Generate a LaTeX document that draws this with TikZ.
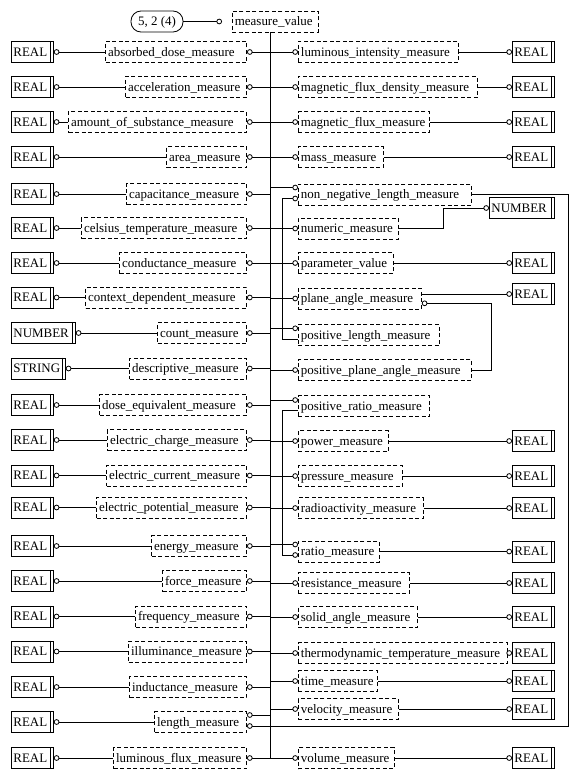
\documentclass[tikz,border=0pt]{standalone}
\usepackage{fontspec}
\setmainfont{Liberation Serif}
\usetikzlibrary{arrows.meta,calc}
\tikzset{
  pl/.style={line width=0.8bp},
  oe/.style={line width=0.8bp,-{Circle[fill=white,length=5.6bp,width=5.6bp]}},
  dbox/.style={draw,dash pattern=on 4bp off 2.5bp,line width=0.8bp,inner xsep=2.5bp,inner ysep=0pt,
    minimum height=21bp,text height=8.6bp,text depth=0pt,align=left},
  sbox/.style={draw,line width=0.8bp,inner xsep=2bp,inner ysep=0pt,
    minimum height=21bp,text height=8.6bp,text depth=0pt,align=left},
  rbox/.style={draw,line width=0.8bp,rounded corners=10bp,inner sep=0pt,minimum width=52bp,
    minimum height=21bp,text height=8.6bp,text depth=0pt},
}
\newcommand\LBox[4]{\pgfmathsetmacro\mytw{247-#3-5}\node[dbox,text width=\mytw bp,anchor=east] (#1) at (247,#2) {#4};}
\newcommand\RBox[4]{\pgfmathsetmacro\mytw{#3-298-5}\node[dbox,text width=\mytw bp,anchor=west] (#1) at (298,#2) {#4};}
\newcommand\SBox[5]{\pgfmathsetmacro\mytw{#4-4}\node[sbox,text width=\mytw bp,anchor=west] (#1) at (#2,#3) {#5};
  \draw[pl] ([xshift=-3.8bp]#1.north east) -- ([xshift=-3.8bp]#1.south east);}
\begin{document}
\begin{tikzpicture}[x=1bp,y=-1bp,font=\fontsize{13}{15}\selectfont]
\useasboundingbox (0,0) rectangle (582,778);

% top
\node[rbox] (sel) at (157,21.5) {5, 2 (4)};
\node[dbox,anchor=west,text width=81bp] (mv) at (232,21.5) {measure\_value};
\coordinate (trunk) at (270.5,32);
\coordinate (lp) at (282,0);
\coordinate (rx) at (568,0);
\coordinate (nb) at (443,0);
\coordinate (pb) at (491,0);

% left column
\LBox{l1}{52}{106}{absorbed\_dose\_measure}
\LBox{l2}{87}{126}{acceleration\_measure}
\LBox{l3}{122}{69}{amount\_of\_substance\_measure}
\LBox{l4}{157}{167}{area\_measure}
\LBox{l5}{194}{127}{capacitance\_measure}
\LBox{l6}{228}{82}{celsius\_temperature\_measure}
\LBox{l7}{263}{120}{conductance\_measure}
\LBox{l8}{297.5}{86}{context\_dependent\_measure}
\LBox{l9}{333}{158}{count\_measure}
\LBox{l10}{368.5}{130}{descriptive\_measure}
\LBox{l11}{405}{100}{dose\_equivalent\_measure}
\LBox{l12}{440}{108}{electric\_charge\_measure}
\LBox{l13}{475.5}{107}{electric\_current\_measure}
\LBox{l14}{507.5}{97}{electric\_potential\_measure}
\LBox{l15}{546}{152}{energy\_measure}
\LBox{l16}{581}{163}{force\_measure}
\LBox{l17}{616.5}{136}{frequency\_measure}
\LBox{l18}{651.5}{129}{illuminance\_measure}
\LBox{l19}{687}{130}{inductance\_measure}
\LBox{l20}{722}{155}{length\_measure}
\LBox{l21}{758}{114}{luminous\_flux\_measure}

\SBox{lt1}{11}{52}{42}{REAL}
\SBox{lt2}{11}{87}{42}{REAL}
\SBox{lt3}{11}{122}{42}{REAL}
\SBox{lt4}{11}{157}{42}{REAL}
\SBox{lt5}{11}{194}{42}{REAL}
\SBox{lt6}{11}{228}{42}{REAL}
\SBox{lt7}{11}{263}{42}{REAL}
\SBox{lt8}{11}{297.5}{42}{REAL}
\SBox{lt9}{11}{333}{64}{NUMBER}
\SBox{lt10}{11}{368.5}{54}{STRING}
\SBox{lt11}{11}{405}{42}{REAL}
\SBox{lt12}{11}{440}{42}{REAL}
\SBox{lt13}{11}{475.5}{42}{REAL}
\SBox{lt14}{11}{507.5}{42}{REAL}
\SBox{lt15}{11}{546}{42}{REAL}
\SBox{lt16}{11}{581}{42}{REAL}
\SBox{lt17}{11}{616.5}{42}{REAL}
\SBox{lt18}{11}{651.5}{42}{REAL}
\SBox{lt19}{11}{687}{42}{REAL}
\SBox{lt20}{11}{722}{42}{REAL}
\SBox{lt21}{11}{758}{42}{REAL}

% right column
\RBox{r1}{52}{458}{luminous\_intensity\_measure}
\RBox{r2}{87}{477}{magnetic\_flux\_density\_measure}
\RBox{r3}{122}{429}{magnetic\_flux\_measure}
\RBox{r4}{157}{383}{mass\_measure}
\RBox{r5}{194.5}{471}{non\_negative\_length\_measure}
\RBox{r6}{228.5}{398}{numeric\_measure}
\RBox{r7}{263}{393}{parameter\_value}
\RBox{r8}{298.5}{421}{plane\_angle\_measure}
\RBox{r9}{335}{439}{positive\_length\_measure}
\RBox{r10}{370}{471}{positive\_plane\_angle\_measure}
\RBox{r11}{406}{429}{positive\_ratio\_measure}
\RBox{r12}{441}{388}{power\_measure}
\RBox{r13}{476}{402}{pressure\_measure}
\RBox{r14}{508}{423}{radioactivity\_measure}
\RBox{r15}{551.5}{379}{ratio\_measure}
\RBox{r16}{583}{409}{resistance\_measure}
\RBox{r17}{617}{417}{solid\_angle\_measure}
\RBox{r18}{653}{507}{thermodynamic\_temperature\_measure}
\RBox{r19}{681}{377}{time\_measure}
\RBox{r20}{709}{398}{velocity\_measure}
\RBox{r21}{758}{394}{volume\_measure}

\foreach \i/\y in {1/52,2/87,3/122,4/157,7/263,12/441,13/476,14/508,15/551.5,16/583,17/617,18/653,19/681,20/709,21/758}
  {\SBox{rt\i}{512}{\y}{42}{REAL}}
\SBox{rt8}{512}{294}{42}{REAL}
\SBox{rt6}{489}{208}{65}{NUMBER}

% trunk
\draw[pl] (mv.south -| trunk) -- (trunk |- r21.west);
\draw[oe] (sel.east) -- ($(mv.west)+(-10,0)$);

% left connections
\foreach \i in {1,...,21} {\draw[oe] (l\i.west) -- (lt\i.east);}
\foreach \i in {1,...,19,21} {\draw[oe] (l\i.east -| trunk) -- (l\i.east);}
\coordinate (l20hi) at ($(l20.east)+(0,-7)$);
\coordinate (l20lo) at ($(l20.east)+(0,4)$);
\draw[oe] (l20hi -| trunk) -- (l20hi);

% right connections
\foreach \i in {1,2,3,4,6,7,8,10,12,13,14,16,17,18,19,20,21} {\draw[oe] (r\i.west -| trunk) -- (r\i.west);}
\foreach \i in {1,2,3,4,7,12,13,14,15,16,17,18,19,20,21} {\draw[oe] (r\i.east) -- (rt\i.west);}
\coordinate (r5hi) at ($(r5.west)+(0,-7)$);
\coordinate (r5lo) at ($(r5.west)+(0,4)$);
\coordinate (r9hi) at ($(r9.west)+(0,-6.7)$);
\coordinate (r9lo) at ($(r9.west)+(0,4.3)$);
\coordinate (r11hi) at ($(r11.west)+(0,-6)$);
\coordinate (r11lo) at ($(r11.west)+(0,4.7)$);
\coordinate (r15hi) at ($(r15.west)+(0,-7)$);
\coordinate (r15lo) at ($(r15.west)+(0,3.5)$);
\coordinate (r8lo) at ($(r8.east)+(0,4.8)$);
\draw[oe] (r5hi -| trunk) -- (r5hi);
\draw[oe] (r9hi -| trunk) -- (r9hi);
\draw[oe] (r11hi -| trunk) -- (r11hi);
\draw[oe] (r15hi -| trunk) -- (r15hi);
\draw[oe] (r9lo) -- (r9lo -| lp) -- (lp |- r5lo) -- (r5lo);
\draw[oe] (r11lo) -- (r11lo -| lp) -- (lp |- r15lo) -- (r15lo);
\draw[oe] (r5.east) -- (r5.east -| rx) -- (rx |- l20lo) -- (l20lo);
\draw[oe] (r6.east) -- (r6.east -| nb) -- (nb |- rt6.west) -- (rt6.west);
\draw[oe] (r8.east |- rt8.west) -- (rt8.west);
\draw[oe] (r10.east) -- (r10.east -| pb) -- (pb |- r8lo) -- (r8lo);
\end{tikzpicture}
\end{document}
